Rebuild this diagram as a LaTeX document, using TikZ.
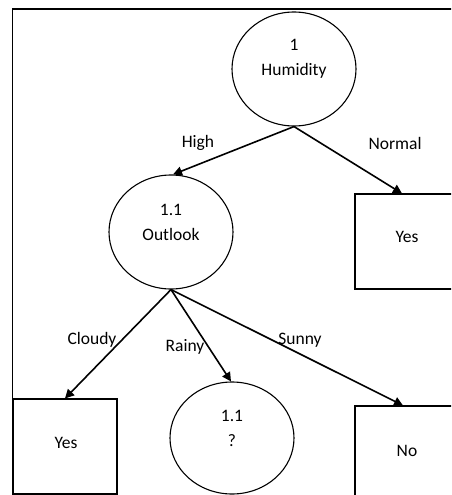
\documentclass[tikz,border=0pt]{standalone}
\usepackage{fontspec}
\setmainfont{Carlito}
\usetikzlibrary{arrows.meta,shapes.geometric}
\begin{document}
\begin{tikzpicture}[x=1pt,y=-1pt,
  every node/.style={font=\fontsize{17.5}{25}\selectfont, inner sep=0pt},
  decision/.style={draw, line width=1.1pt, ellipse, minimum width=124pt, minimum height=114pt},
  leaf/.style={draw, line width=1.1pt, rectangle, minimum width=104pt, minimum height=#1},
  branch/.style={line width=1.6pt, -{Triangle[length=9pt,width=9pt]}},
  caption/.style={align=center}]
\useasboundingbox (0,0) rectangle (451,495);
\clip (0,0) rectangle (451,495);
\fill[white] (0,0) rectangle (451,495);

% outer frame
\draw[line width=1.8pt] (12.5,600) -- (12.5,9) -- (470,9);

% decision nodes (text block sits slightly above the centre)
\node[decision] (hum) at (294,69) {};
\node[caption] (humtxt) at ([yshift=10pt]hum.center) {1\\Humidity};
\node[decision] (out) at (171,232) {};
\node[caption] (outtxt) at ([yshift=10pt]out.center) {1.1\\Outlook};
\node[decision, minimum height=112pt] (rain) at (232,438) {};
\node[caption] (raintxt) at ([yshift=10pt]rain.center) {1.1\\?};

% leaves
\node[leaf=95pt] (yesN) at (407,241.5) {};
\node (yesNtxt) at (407,237) {Yes};
\node[leaf=95pt] (yesC) at (65,446.5) {};
\node (yesCtxt) at (66,443) {Yes};
\node[leaf=110pt] (no) at (407,461) {};
\node (notxt) at (407,451) {No};

% branches
\draw[branch] (hum.south) -- ([xshift=2pt]out.north);
\draw[branch] (hum.south) -- ([xshift=-5pt]yesN.north);
\draw[branch] (out.south) -- (yesC.north);
\draw[branch] (out.south) -- ([xshift=-1pt]rain.north);
\draw[branch] (out.south) -- ([xshift=-4pt]no.north);

% branch labels
\node (lhigh) at (198,143) {High};
\node (lnormal) at (395,143) {Normal};
\node (lcloudy) at (92,340) {Cloudy};
\node (lrainy) at (185,347) {Rainy};
\node (lsunny) at (300,340) {Sunny};
\end{tikzpicture}
\end{document}
